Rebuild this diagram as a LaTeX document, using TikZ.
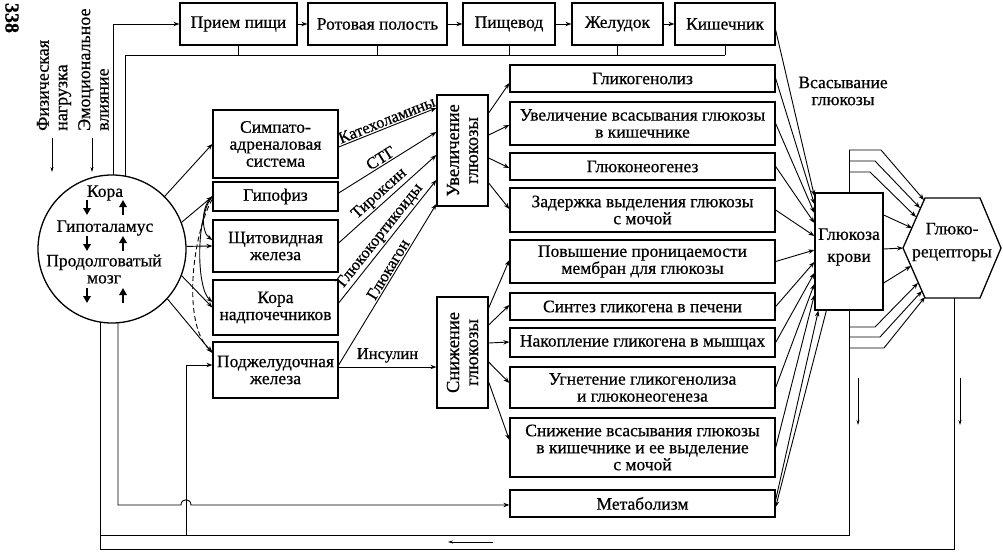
\documentclass[tikz,border=0pt]{standalone}
\usepackage{fontspec}
\setmainfont{Liberation Serif}[FakeBold=0.6]
\usetikzlibrary{arrows.meta,calc,shapes.geometric}
\newcommand\mkbox[6]{\node[box, minimum width=#4pt, minimum height=#5pt] (#1) at (#2,#3) {#6};}
\begin{document}
\begin{tikzpicture}[x=1pt,y=-1pt,
  every node/.style={font=\fontsize{17.5}{17}\selectfont, inner sep=0pt},
  box/.style={draw, line width=1.3pt, align=center},
  con/.style={line width=0.9pt},
  arr/.style={con,-{Stealth[length=6pt,width=4.5pt]}},
  dirarr/.style={line width=0.7pt,-{Stealth[length=5pt,width=3pt]}},
  fat/.style={line width=2.6pt,-{Triangle[length=7pt,width=7.5pt]}},
  lab/.style={font=\fontsize{16.5}{16}\selectfont, inner sep=1.5pt},
  rotlab/.style={rotate=90, align=center, font=\fontsize{18.5}{19}\selectfont},
  inflab/.style={rotate=90, anchor=west, align=left, font=\fontsize{18}{18.5}\selectfont},
]
\useasboundingbox (0,0) rectangle (1003,551);

% page number
\node[rotate=-90, font=\fontsize{20}{20}\selectfont\bfseries] (pg) at (12,18) {338};

% brain
\node[draw, ellipse, line width=1.3pt, minimum width=148pt, minimum height=148pt] (brain) at (112,249) {};
\node (tk) at (105,193) {Кора};
\node (tg) at (105,228) {Гипоталамус};
\node[align=center] (tp) at (104,269) {Продолговатый\\мозг};
\foreach \yy in {200,236,288}{
  \draw[fat] (87,\yy) -- (87,\yy+15);
  \draw[fat] (123,\yy+15) -- (123,\yy);
}
% influences
\node[inflab] (fiz) at (54,131) {Физическая\\нагрузка};
\node[inflab] (emo) at (93.5,131) {Эмоциональное\\влияние};
\coordinate (fa) at (52,138); \coordinate (fb) at (52,172);
\coordinate (ea) at (92,138); \coordinate (eb) at (92,172);
\draw[dirarr] (fa) -- (fb);
\draw[dirarr] (ea) -- (eb);

% top boxes
\mkbox{priem}{238.5}{24}{117}{42}{Прием пищи}
\mkbox{rot}{377.5}{24}{139}{42}{Ротовая полость}
\mkbox{pish}{509}{24}{92}{42}{Пищевод}
\mkbox{zhel}{617.5}{24}{91}{42}{Желудок}
\mkbox{kish}{725}{24}{100}{42}{Кишечник}
\draw[arr] (priem.east) -- (rot.west);
\draw[arr] (rot.east) -- (pish.west);
\draw[arr] (pish.east) -- (zhel.west);
\draw[arr] (zhel.east) -- (kish.west);

\coordinate (bt1) at ($(brain.center)+(1,-74)$);
\coordinate (bt2) at ($(brain.center)+(13,-72.8)$);
\coordinate (bb1) at ($(brain.center)+(-12,73)$);
\coordinate (bb2) at ($(brain.center)+(6,73.7)$);
\draw[arr] (bt1) |- (priem.west);
\coordinate (barR) at (725,55);
\draw[con] (bt2) |- (barR);
\foreach \n in {priem,rot,pish,zhel,kish}{ \draw[con] (\n.south) -- (\n.south |- barR); }

% left boxes
\mkbox{simp}{275.5}{144}{125}{68}{Симпато-\\адреналовая\\система}
\mkbox{gip}{275.5}{196.5}{125}{29}{Гипофиз}
\mkbox{shch}{275.5}{246}{125}{52}{Щитовидная\\железа}
\mkbox{kora}{275.5}{307.5}{125}{55}{Кора\\надпочечников}
\mkbox{podzh}{275.5}{370}{125}{56}{Поджелудочная\\железа}

\draw[arr] (brain.45) -- (simp.west);
\draw[arr] (brain.21) -- (gip.west);
\draw[arr] (brain.2) -- (shch.west);
\draw[arr] (brain.-21) -- (kora.west);
\draw[arr] (brain.-42) -- (podzh.west |- 0,353);

% pituitary curves
\draw[arr] (gip.west) .. controls (201,205) and (201,232) .. (shch.west |- 0,240);
\draw[arr] (gip.west) .. controls (196,215) and (196,288) .. (kora.west |- 0,302);
\draw[arr, dashed, dash pattern=on 5pt off 3pt] (gip.west |- 0,199) .. controls (192,235) and (182,325) .. (podzh.west |- 0,352);

% increase / decrease boxes
\node[box, minimum width=51pt, minimum height=111pt] (uvel) at (462.5,150.5) {};
\node[rotlab] (uvelt) at (uvel.center) {Увеличение\\глюкозы};
\node[box, minimum width=51pt, minimum height=111pt] (snizh) at (462.5,352.5) {};
\node[rotlab] (snizht) at (snizh.center) {Снижение\\глюкозы};

% hormones
\draw[arr] (simp.east |- 0,147) -- node[lab, sloped, above, pos=0.52] {Катехоламины} (uvel.west |- 0,108);
\draw[arr] (gip.east |- 0,193) -- node[lab, sloped, above, pos=0.47] {СТГ} (uvel.west |- 0,132);
\draw[arr] (shch.east |- 0,243) -- node[lab, sloped, above, pos=0.48] {Тироксин} (uvel.west |- 0,155);
\draw[arr] (kora.east |- 0,303) -- node[lab, sloped, above, pos=0.5] {Глюкокортикоиды} (uvel.west |- 0,180);
\draw[arr] (podzh.east |- 0,365) -- node[lab, sloped, above, pos=0.57] {Глюкагон} (uvel.west |- 0,204);
\draw[arr] (podzh.east |- 0,367) -- node[lab, above, inner sep=4pt] {Инсулин} (snizh.west |- 0,367);

% right column
\mkbox{b1}{642.5}{78.5}{265}{27}{Гликогенолиз}
\mkbox{b2}{642.5}{123.5}{265}{43}{Увеличение всасывания глюкозы\\в кишечнике}
\mkbox{b3}{642.5}{166.5}{265}{27}{Глюконеогенез}
\mkbox{b4}{642.5}{210}{265}{44}{Задержка выделения глюкозы\\с мочой}
\mkbox{b5}{642.5}{261.5}{265}{43}{Повышение проницаемости\\мембран для глюкозы}
\mkbox{b6}{642.5}{306.5}{265}{27}{Синтез гликогена в печени}
\mkbox{b7}{642.5}{342.5}{265}{29}{Накопление гликогена в мышцах}
\mkbox{b8}{642.5}{387.5}{265}{41}{Угнетение гликогенолиза\\и глюконеогенеза}
\mkbox{b9}{642.5}{447.5}{265}{59}{Снижение всасывания глюкозы\\в кишечнике и ее выделение\\с мочой}
\mkbox{b10}{642.5}{503.5}{265}{27}{Метаболизм}

\draw[arr] (uvel.east |- 0,113) -- (b1.west |- 0,83);
\draw[arr] (uvel.east |- 0,135) -- (b2.west |- 0,125);
\draw[arr] (uvel.east |- 0,158) -- (b3.west |- 0,168);
\draw[arr] (uvel.east |- 0,183) -- (b4.west |- 0,209);
\draw[arr] (snizh.east |- 0,308) -- (b5.west |- 0,260);
\draw[arr] (snizh.east |- 0,325) -- (b6.west |- 0,305);
\draw[arr] (snizh.east |- 0,343) -- (b7.west |- 0,342);
\draw[arr] (snizh.east |- 0,362) -- (b8.west |- 0,383);
\draw[arr] (snizh.east |- 0,382) -- (b9.west |- 0,440);

% blood glucose
\node[box, minimum width=68pt, minimum height=117pt] (blood) at (849,251.5) {};
\node[align=center, font=\fontsize{17.5}{22}\selectfont] (bloodt) at (849,247) {Глюкоза\\крови};
\node[align=center] (vs) at (843,91) {Всасывание\\глюкозы};

\draw[arr] (kish.east |- 0,30) -- (blood.west |- 0,196);
\draw[arr] (b1.east) -- (blood.west |- 0,204);
\draw[arr] (b2.east) -- (blood.west |- 0,213);
\draw[arr] (b3.east) -- (blood.west |- 0,223);
\draw[arr] (b4.east) -- (blood.west |- 0,236);
\draw[arr] (b5.east) -- (blood.west |- 0,250);
\draw[arr] (b6.east) -- (blood.west |- 0,262);
\draw[arr] (b7.east) -- (blood.west |- 0,273);
\draw[arr] (b8.east) -- (blood.west |- 0,284);
\draw[arr] (b9.east) -- (blood.west |- 0,295);
\draw[arr] (blood.south west) ++(12,0) coordinate (bs1) -- (b10.east |- 0,507);
\draw[arr] (b10.east |- 0,500) -- ($(blood.south west)+(4,0)$);

% receptors hexagon
\coordinate (h1) at (903,248); \coordinate (h2) at (925,198); \coordinate (h3) at (980,198);
\coordinate (h4) at (1001,248); \coordinate (h5) at (980,298); \coordinate (h6) at (925,298);
\draw[line width=1.3pt] (h1) -- (h2) -- (h3) -- (h4) -- (h5) -- (h6) -- cycle;
\node[align=center, font=\fontsize{17.5}{23}\selectfont] (gr) at (952,242) {Глюко-\\рецепторы};
\coordinate (hA) at (912,228); \coordinate (hC) at (911,266);
\draw[arr] (blood.east |- 0,215) -- (hA);
\draw[arr] (blood.east |- 0,249) -- (h1);
\draw[arr] (blood.east |- 0,283) -- (hC);

% top bundle
\coordinate (t1) at (924,200); \coordinate (t2) at (920,208); \coordinate (t3) at (916,217);
\draw[con] (blood.north) -- (blood.north |- 0,150);
\draw[arr] (blood.north |- 0,150) -- (881,150) -- (t1);
\draw[arr] (blood.north |- 0,161) -- (875,161) -- (t2);
\draw[arr] (blood.north |- 0,172) -- (870,172) -- (t3);
% bottom bundle
\coordinate (u1) at (918,283); \coordinate (u2) at (922,291); \coordinate (u3) at (925,297);
\draw[arr] (blood.south |- 0,327) -- (875,327) -- (u1);
\draw[arr] (blood.south |- 0,337) -- (880,337) -- (u2);
\draw[arr] (blood.south |- 0,348) -- (884,348) -- (u3);

% feedback loops
\coordinate (hb) at (954,298);
\draw[con] (blood.south) -- (blood.south |- 0,535) -- (bb1 |- 0,535);
\draw[con] (hb) -- (954,549) -- (bb1 |- 0,549) -- (bb1);
\draw[arr] (186,535) |- (podzh.west |- 0,365);
\draw[arr] (bb2) -- (bb2 |- 0,505) -- (181,505) .. controls (181,498) and (191,498) .. (191,505) -- (b10.west |- 0,505);

% direction marks
\draw[dirarr] (858,378) -- (858,425);
\draw[dirarr] (960,378) -- (960,425);
\draw[dirarr] (493,542) -- (448,542);
\end{tikzpicture}
\end{document}
